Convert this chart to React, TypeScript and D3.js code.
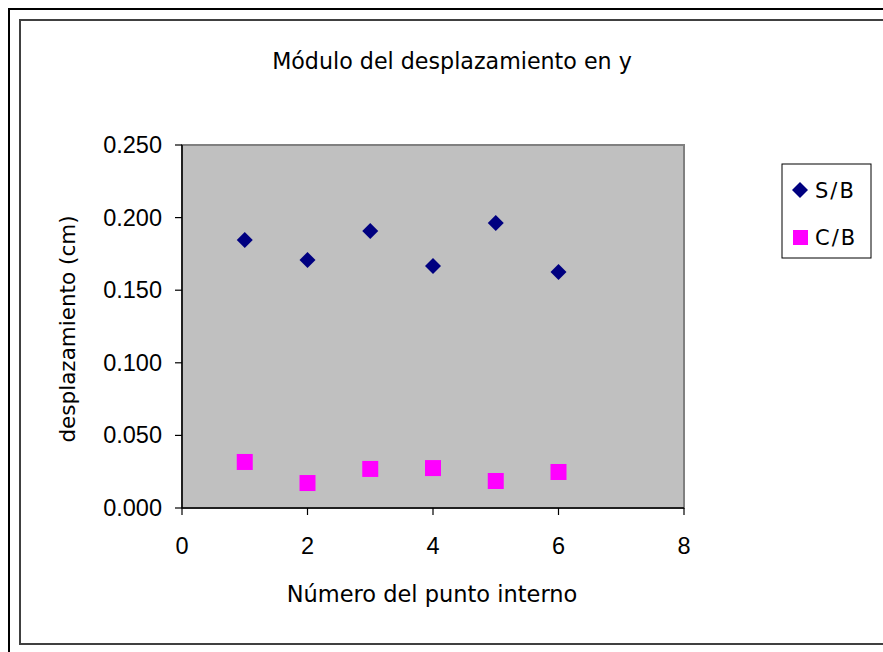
import React from "react";
import * as d3 from "d3";

const points = [1, 2, 3, 4, 5, 6];
const sbValues = [0.1846, 0.1708, 0.1908, 0.1667, 0.1963, 0.1625];
const cbValues = [0.0317, 0.0172, 0.0269, 0.0275, 0.0186, 0.0248];
const yTicks = [0, 0.05, 0.1, 0.15, 0.2, 0.25];
const xTicks = [0, 2, 4, 6, 8];
const seriesNames = ["S/B", "C/B"];

const W = 883;
const H = 652;
const plot = { left: 182, right: 684, top: 145, bottom: 508 };
const comic = "'Comic Sans MS', 'DejaVu Sans', sans-serif";
const arial = "'Liberation Sans', Arial, sans-serif";

export default function App() {
  const x = d3.scaleLinear().domain([0, 8]).range([plot.left, plot.right]);
  const y = d3.scaleLinear().domain([0, 0.25]).range([plot.bottom, plot.top]);
  const diamond = (cx: number, cy: number, r: number) =>
    `M${cx},${cy - r}L${cx + r},${cy}L${cx},${cy + r}L${cx - r},${cy}Z`;
  return (
    <svg
      width={W}
      height={H}
      style={{ position: "absolute", left: 0, top: 0, display: "block", background: "#fff" }}
    >
      {/* frames */}
      <rect x={9} y={9} width={W + 20} height={H + 20} fill="none" stroke="#000" strokeWidth={2} />
      <rect x={20} y={20} width={W + 20} height={624} fill="none" stroke="#404040" strokeWidth={2} />
      {/* title */}
      <text x={452} y={69} textAnchor="middle" fontFamily={comic} fontSize={22.2} fill="#000">
        Módulo del desplazamiento en y
      </text>
      {/* plot area */}
      <rect
        x={plot.left}
        y={plot.top}
        width={plot.right - plot.left}
        height={plot.bottom - plot.top}
        fill="#c0c0c0"
        stroke="#808080"
        strokeWidth={2}
      />
      {/* axes */}
      <line x1={plot.left} x2={plot.left} y1={plot.top} y2={plot.bottom} stroke="#000" strokeWidth={1.5} />
      <line x1={plot.left} x2={plot.right} y1={plot.bottom} y2={plot.bottom} stroke="#000" strokeWidth={1.5} />
      {yTicks.map((t) => (
        <g key={"y" + t}>
          <line x1={plot.left - 7} x2={plot.left} y1={y(t)} y2={y(t)} stroke="#000" strokeWidth={1.2} />
          <text
            x={162}
            y={y(t) + 8}
            textAnchor="end"
            fontFamily={arial}
            fontSize={23.5}
            fill="#000"
          >
            {d3.format(".3f")(t)}
          </text>
        </g>
      ))}
      {xTicks.map((t) => (
        <g key={"x" + t}>
          <line x1={x(t)} x2={x(t)} y1={plot.bottom} y2={plot.bottom + 7} stroke="#000" strokeWidth={1.2} />
          <text x={x(t)} y={554} textAnchor="middle" fontFamily={arial} fontSize={23.5} fill="#000">
            {t}
          </text>
        </g>
      ))}
      {/* axis titles */}
      <text x={432} y={602} textAnchor="middle" fontFamily={comic} fontSize={22.5} fill="#000">
        Número del punto interno
      </text>
      <text
        transform={`translate(75,${329}) rotate(-90)`}
        textAnchor="middle"
        fontFamily={comic}
        fontSize={21.5}
        fill="#000"
      >
        desplazamiento (cm)
      </text>
      {/* data */}
      {points.map((p, i) => (
        <path key={"sb" + i} d={diamond(x(p), y(sbValues[i]), 8)} fill="#000080" />
      ))}
      {points.map((p, i) => (
        <rect key={"cb" + i} x={x(p) - 8} y={y(cbValues[i]) - 8} width={16} height={16} fill="#ff00ff" />
      ))}
      {/* legend */}
      <rect x={782} y={164} width={89} height={94} fill="#fff" stroke="#000" strokeWidth={1} />
      <path d={diamond(800, 190, 8)} fill="#000080" />
      <text x={815} y={198} fontFamily={comic} fontSize={21} letterSpacing={2} fill="#000">
        {seriesNames[0]}
      </text>
      <rect x={793} y={230} width={15} height={15} fill="#ff00ff" />
      <text x={815} y={245} fontFamily={comic} fontSize={21} letterSpacing={2} fill="#000">
        {seriesNames[1]}
      </text>
    </svg>
  );
}
